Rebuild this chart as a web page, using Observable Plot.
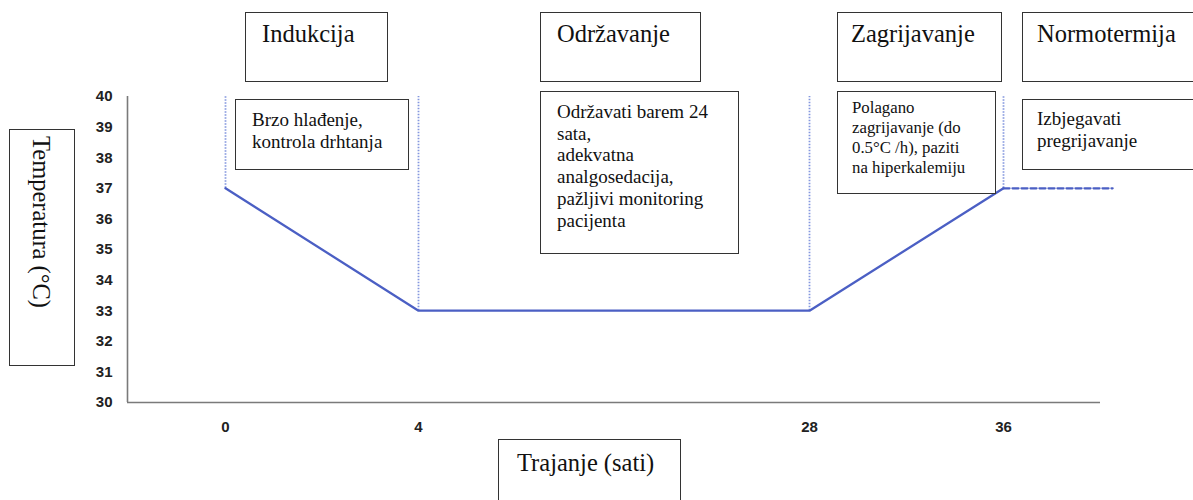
<!DOCTYPE html>
<html>
<head>
<meta charset="utf-8">
<script src="https://cdn.jsdelivr.net/npm/d3@7"></script>
<script src="https://cdn.jsdelivr.net/npm/@observablehq/plot@0.6"></script>
<style>
  html, body { margin: 0; padding: 0; background: #fff; }
  #wrap { position: relative; width: 1193px; height: 500px; overflow: hidden; }
  #wrap svg { position: absolute; left: 0; top: 0; }
  #wrap svg text { font-size: 15px !important; font-weight: bold !important; fill: #222 !important; }
  .box { position: absolute; box-sizing: border-box; border: 1px solid #333; background: #fff;
         font-family: "Liberation Serif", "Times New Roman", serif; color: #111; white-space: pre; }
</style>
</head>
<body>
<div id="wrap"></div>
<script>
// ---- data ----
const hours = [0, 4, 28, 36];                 // key time points (h)
const temps = [37, 33, 33, 37];               // target temperature (°C)
const normoHours = [36, 40.5];                // normothermia (dashed)
const normoTemps = [37, 37];
const yTicks = [30, 31, 32, 33, 34, 35, 36, 37, 38, 39, 40];
const xTicks = [0, 4, 28, 36];
const phases = ["Indukcija", "Održavanje", "Zagrijavanje", "Normotermija"];
const notes = [
  "Brzo hlađenje,\nkontrola drhtanja",
  "Održavati barem 24\nsata,\nadekvatna\nanalgosedacija,\npažljivi monitoring\npacijenta",
  "Polagano\nzagrijavanje (do\n0.5°C /h), paziti\nna hiperkalemiju",
  "Izbjegavati\npregrijavanje"
];
const yLabel = "Temperatura (°C)";
const xLabel = "Trajanje (sati)";

// ---- layout (positions / styles only) ----
const xDomain = [-2, 0, 4, 28, 36, 40];
const xRange = [127, 225, 418, 809, 1003, 1100];
const phaseBoxes = [
  {l: 245, t: 12, w: 143, h: 70, pl: 16, pt: 6},
  {l: 540, t: 12, w: 161, h: 70, pl: 16, pt: 6},
  {l: 837, t: 12, w: 165, h: 70, pl: 13, pt: 6},
  {l: 1022, t: 12, w: 190, h: 70, pl: 14, pt: 6}
];
const noteBoxes = [
  {l: 235, t: 99, w: 174, h: 71, pl: 16, pt: 9, fs: 19, lh: 21.7},
  {l: 540, t: 91, w: 199, h: 163, pl: 16, pt: 9, fs: 19, lh: 21.7},
  {l: 837, t: 91, w: 159, h: 103, pl: 14, pt: 6, fs: 16.8, lh: 20},
  {l: 1022, t: 99, w: 190, h: 71, pl: 14, pt: 8, fs: 19, lh: 21.7}
];

const rows = hours.map((h, i) => ({h, t: temps[i]}));
const normo = normoHours.map((h, i) => ({h, t: normoTemps[i]}));

const lineColor = "#4b5fc4";
const dotColor = "#8497de";

const chart = Plot.plot({
  width: 1193,
  height: 500,
  marginTop: 96,
  marginBottom: 98,
  marginLeft: 127,
  marginRight: 93,
  style: {fontFamily: "Liberation Sans, Arial, sans-serif", fontSize: "15px", color: "#222", background: "transparent"},
  x: {type: "linear", domain: xDomain, range: xRange},
  y: {domain: [yTicks[0], yTicks[yTicks.length - 1]]},
  marks: [
    Plot.ruleY([yTicks[0]], {stroke: "#7a7a7a", strokeWidth: 1.6}),
    Plot.ruleX([xDomain[0]], {stroke: "#7a7a7a", strokeWidth: 1.6}),
    Plot.ruleX(rows, {x: "h", y1: "t", y2: yTicks[yTicks.length - 1], stroke: dotColor, strokeWidth: 1.8, strokeDasharray: "1.5 1.5"}),
    Plot.line(rows, {x: "h", y: "t", stroke: lineColor, strokeWidth: 2.3}),
    Plot.line(normo, {x: "h", y: "t", stroke: lineColor, strokeWidth: 2.3, strokeDasharray: "6 3"}),
    Plot.axisY({ticks: yTicks, tickSize: 0, tickPadding: 15, label: null, tickFormat: d => String(d)}),
    Plot.axisX({ticks: xTicks, tickSize: 0, tickPadding: 19, label: null, tickFormat: d => String(d)})
  ]
});

const wrap = document.getElementById("wrap");
wrap.appendChild(chart);

function addBox(b, text, fs, lh, extra) {
  const d = document.createElement("div");
  d.className = "box";
  Object.assign(d.style, {
    left: b.l + "px", top: b.t + "px", width: b.w + "px", height: b.h + "px",
    paddingLeft: b.pl + "px", paddingTop: b.pt + "px",
    fontSize: fs + "px", lineHeight: lh + "px"
  }, extra || {});
  d.textContent = text;
  wrap.appendChild(d);
}
phases.forEach((p, i) => addBox(phaseBoxes[i], p, 24.5, 30));
notes.forEach((n, i) => addBox(noteBoxes[i], n, noteBoxes[i].fs, noteBoxes[i].lh));
// axis label boxes
addBox({l: 498, t: 439, w: 183, h: 80, pl: 18, pt: 8}, xLabel, 24.5, 30);
addBox({l: 9, t: 129, w: 66, h: 237, pl: 0, pt: 6}, yLabel, 24.5, 30,
  {writingMode: "vertical-rl", paddingRight: "18px"});
</script>
</body>
</html>
